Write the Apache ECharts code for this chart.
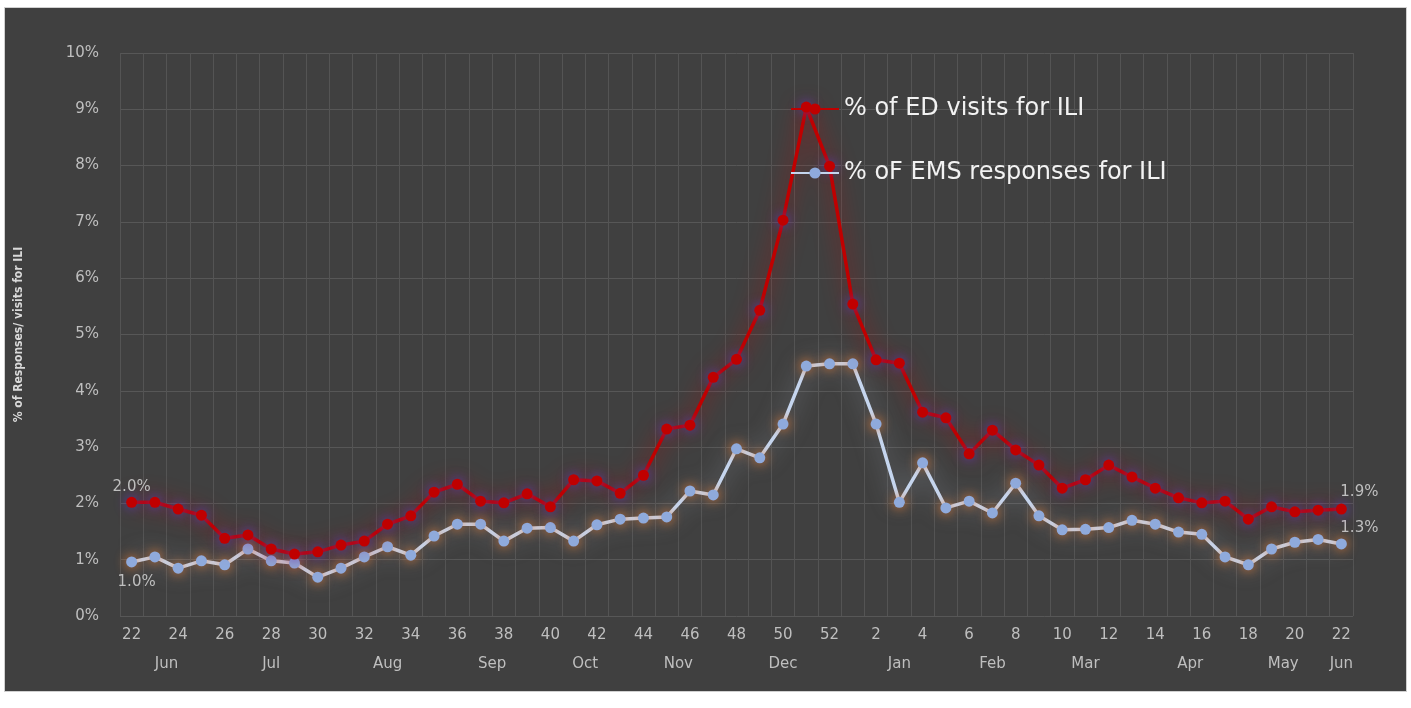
<!DOCTYPE html>
<html>
<head>
<meta charset="utf-8">
<script src="https://cdn.jsdelivr.net/npm/echarts@6/dist/echarts.min.js"></script>
<style>
html,body{margin:0;padding:0;background:#ffffff;width:1411px;height:708px;overflow:hidden;}
#chart{position:absolute;left:4px;top:7px;width:1401px;height:683px;background:#404040;border:1px solid #d0d0d0;}
</style>
</head>
<body>
<div id="chart"></div>
<script>
// Week numbers (June week 22 through the following June week 22)
const weekLabels = ['22','23','24','25','26','27','28','29','30','31','32','33','34','35','36','37','38','39','40','41','42','43','44','45','46','47','48','49','50','51','52',
  '1','2','3','4','5','6','7','8','9','10','11','12','13','14','15','16','17','18','19','20','21','22'];

// % of ED visits for ILI
const edValues = [2.02,2.02,1.90,1.79,1.38,1.44,1.19,1.10,1.14,1.26,1.33,1.63,1.78,2.20,2.34,2.04,2.01,2.17,1.94,2.42,2.40,2.18,2.50,3.32,3.39,4.24,4.56,5.43,7.03,9.04,7.99,
  5.54,4.55,4.49,3.62,3.52,2.88,3.30,2.95,2.68,2.27,2.42,2.68,2.47,2.27,2.10,2.01,2.04,1.72,1.94,1.85,1.88,1.90];

// % oF EMS responses for ILI
const emsValues = [0.96,1.05,0.85,0.98,0.91,1.19,0.98,0.94,0.69,0.85,1.05,1.23,1.08,1.42,1.63,1.63,1.33,1.56,1.57,1.33,1.62,1.72,1.74,1.76,2.22,2.15,2.97,2.81,3.41,4.44,4.48,
  4.48,3.41,2.02,2.72,1.92,2.04,1.83,2.36,1.78,1.53,1.54,1.57,1.70,1.63,1.49,1.45,1.05,0.91,1.19,1.31,1.36,1.28];

// Month labels on a half-week slot axis: [slot, name]
const monthTicks = [[4,'Jun'],[13,'Jul'],[23,'Aug'],[32,'Sep'],[40,'Oct'],[48,'Nov'],[57,'Dec'],[67,'Jan'],[75,'Feb'],[83,'Mar'],[92,'Apr'],[100,'May'],[105,'Jun']];

const seriesNames = ['% of ED visits for ILI', '% oF EMS responses for ILI'];
const yTicks = {min: 0, max: 10, interval: 1};

const slotCount = weekLabels.length * 2 + 1;
const monthSlots = new Array(slotCount).fill('');
monthTicks.forEach(([k, n]) => { monthSlots[k] = n; });

const FONT = 'DejaVu Sans';
const lastIdx = edValues.length - 1;
const fmtPct = v => v.toFixed(1) + '%';
const labelStyle = {show: true, color: '#bfbfbf', fontSize: 15, fontFamily: FONT, formatter: p => fmtPct(p.value)};

const edData = edValues.map((v, i) => {
  if (i === 0) return {value: v, label: Object.assign({}, labelStyle, {position: 'top', distance: 2})};
  if (i === lastIdx) return {value: v, label: Object.assign({}, labelStyle, {position: 'top', offset: [18, 1]})};
  return v;
});
const emsData = emsValues.map((v, i) => {
  if (i === 0) return {value: v, label: Object.assign({}, labelStyle, {position: 'bottom', offset: [5, 2]})};
  if (i === lastIdx) return {value: v, label: Object.assign({}, labelStyle, {position: 'top', offset: [18, 2]})};
  return v;
});

const chart = echarts.init(document.getElementById('chart'));
chart.setOption({
  backgroundColor: '#404040',
  animation: false,
  grid: {left: 114, right: 53, top: 45, bottom: 75, containLabel: false},
  legend: {
    orient: 'vertical',
    left: 780, top: 84,
    itemWidth: 48, itemHeight: 14, itemGap: 40,
    textStyle: {color: '#f2f2f2', fontSize: 24, fontFamily: FONT},
    data: seriesNames
  },
  xAxis: [{
    type: 'category',
    data: weekLabels,
    boundaryGap: true,
    axisLine: {show: false},
    axisTick: {show: false},
    axisLabel: {interval: 1, color: '#bfbfbf', fontSize: 15, fontFamily: FONT, margin: 12},
    splitLine: {show: true, interval: 0, lineStyle: {color: '#545454', width: 1}}
  }, {
    type: 'category',
    data: monthSlots,
    boundaryGap: false,
    position: 'bottom',
    axisLine: {show: false},
    axisTick: {show: false},
    splitLine: {show: false},
    axisLabel: {interval: 0, color: '#bfbfbf', fontSize: 15, fontFamily: FONT, margin: 41}
  }],
  yAxis: {
    type: 'value',
    min: yTicks.min, max: yTicks.max, interval: yTicks.interval,
    name: '% of Responses/ visits for ILI',
    nameLocation: 'middle',
    nameGap: 95,
    nameRotate: 90,
    nameTextStyle: {color: '#d9d9d9', fontSize: 12, fontWeight: 'bold', fontFamily: 'Liberation Sans Narrow, DejaVu Sans Condensed, sans-serif'},
    axisLine: {show: false},
    axisTick: {show: false},
    axisLabel: {color: '#bfbfbf', fontSize: 15, fontFamily: FONT, margin: 21, formatter: '{value}%'},
    splitLine: {lineStyle: {color: '#575757', width: 1}}
  },
  series: [{
    name: seriesNames[1],
    type: 'line',
    data: emsData,
    symbol: 'circle',
    symbolSize: 11,
    lineStyle: {color: '#c5d5ee', width: 3.5, shadowColor: 'rgba(185,195,210,0.6)', shadowBlur: 22},
    itemStyle: {color: '#8faadc', shadowColor: 'rgba(237,125,49,1)', shadowBlur: 12},
    z: 2
  }, {
    name: seriesNames[0],
    type: 'line',
    data: edData,
    symbol: 'circle',
    symbolSize: 11,
    lineStyle: {color: '#c00000', width: 3.5, shadowColor: 'rgba(210,0,0,0.85)', shadowBlur: 22},
    itemStyle: {color: '#c00000', shadowColor: 'rgba(90,60,190,1)', shadowBlur: 12},
    z: 3
  }]
});
</script>
</body>
</html>
